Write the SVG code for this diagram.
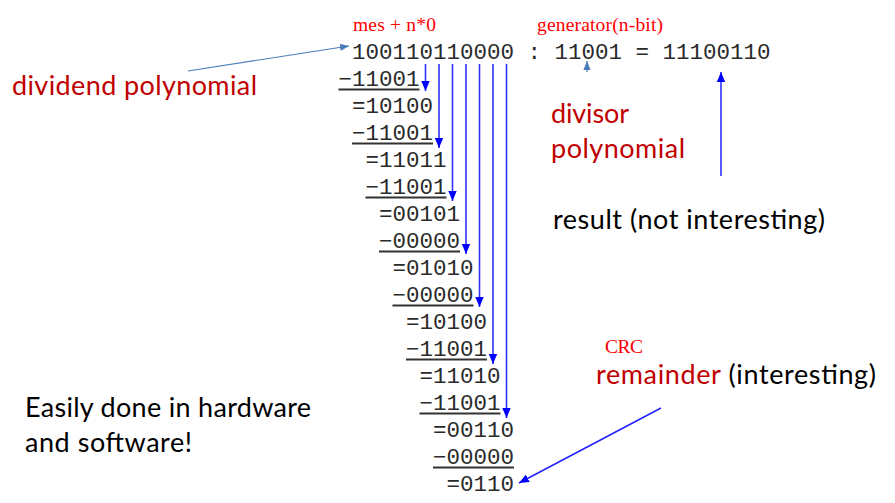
<svg xmlns="http://www.w3.org/2000/svg" width="895" height="503" viewBox="0 0 895 503">
<style>
.mono{font-family:"Liberation Mono","Courier New",monospace;font-size:22.5px;fill:#2a2a2a}
.ul{stroke:#333;stroke-width:2}
.sans{font-family:Lato,"Open Sans",sans-serif;font-size:27px}
.red{fill:#c00000}
.blk{fill:#000}
.ser{font-family:"Liberation Serif","Times New Roman",serif;font-size:19.5px;fill:#ff0000}
.vb{stroke:#3333ff;stroke-width:1.6;fill:none;marker-end:url(#ab)}
.sb{stroke:#4a7ebb;stroke-width:1.2;fill:none;marker-end:url(#as)}
.bb{stroke:#2222ff;stroke-width:1.5;fill:none;marker-end:url(#ab)}
</style>
<defs>
<marker id="ab" markerUnits="userSpaceOnUse" markerWidth="10" markerHeight="10" viewBox="0 0 10 10" refX="10" refY="5" orient="auto">
<path d="M0,0.8 L10,5 L0,9.2 Z" fill="#0000ff"/>
</marker>
<marker id="as" markerUnits="userSpaceOnUse" markerWidth="9" markerHeight="9" viewBox="0 0 10 10" refX="10" refY="5" orient="auto">
<path d="M0,1 L10,5 L0,9 Z" fill="#4a7ebb"/>
</marker>
</defs>

<g id="labels">
<text class="ser" x="353" y="31" textLength="83">mes + n*0</text>
<text class="ser" x="537" y="31" textLength="126">generator(n-bit)</text>
<text class="ser" x="605" y="353" textLength="38">CRC</text>
</g>

<g id="dividend-label"><text class="sans red" x="12" y="95" textLength="245">dividend polynomial</text></g>
<g id="divisor-label">
<text class="sans red" x="551" y="123" textLength="78">divisor</text>
<text class="sans red" x="551" y="158" textLength="134">polynomial</text>
</g>
<g id="result-label"><text class="sans blk" x="553" y="229" textLength="272">result (not interesting)</text></g>
<g id="remainder-label"><text class="sans blk" x="596" y="384" textLength="280"><tspan class="red">remainder</tspan> (interesting)</text></g>
<g id="note">
<text class="sans blk" x="25" y="417" textLength="286">Easily done in hardware</text>
<text class="sans blk" x="25" y="452" textLength="167">and software!</text>
</g>

<g id="division">
<text class="mono" x="352" y="59" xml:space="preserve">100110110000 : 11001 = 11100110</text>
<text class="mono" x="338.5" y="86">−11001</text>
<text class="mono" x="352" y="113">=10100</text>
<text class="mono" x="352" y="140">−11001</text>
<text class="mono" x="365.5" y="167">=11011</text>
<text class="mono" x="365.5" y="194">−11001</text>
<text class="mono" x="379" y="221">=00101</text>
<text class="mono" x="379" y="248">−00000</text>
<text class="mono" x="392.5" y="275">=01010</text>
<text class="mono" x="392.5" y="302">−00000</text>
<text class="mono" x="406" y="329">=10100</text>
<text class="mono" x="406" y="356">−11001</text>
<text class="mono" x="419.5" y="383">=11010</text>
<text class="mono" x="419.5" y="410">−11001</text>
<text class="mono" x="433" y="437">=00110</text>
<text class="mono" x="433" y="464">−00000</text>
<text class="mono" x="446.5" y="491">=0110</text>
<line class="ul" x1="338.5" y1="89.5" x2="419.5" y2="89.5"/>
<line class="ul" x1="352" y1="143.5" x2="433" y2="143.5"/>
<line class="ul" x1="365.5" y1="197.5" x2="446.5" y2="197.5"/>
<line class="ul" x1="379" y1="251.5" x2="460" y2="251.5"/>
<line class="ul" x1="392.5" y1="305.5" x2="473.5" y2="305.5"/>
<line class="ul" x1="406" y1="359.5" x2="487" y2="359.5"/>
<line class="ul" x1="419.5" y1="413.5" x2="500.5" y2="413.5"/>
<line class="ul" x1="433" y1="467.5" x2="514" y2="467.5"/>
</g>

<g id="connectors">
<line class="vb" x1="425.5" y1="64" x2="425.5" y2="91"/>
<line class="vb" x1="439" y1="64" x2="439" y2="148"/>
<line class="vb" x1="452.5" y1="64" x2="452.5" y2="201"/>
<line class="vb" x1="466" y1="64" x2="466" y2="254"/>
<line class="vb" x1="479.5" y1="64" x2="479.5" y2="307"/>
<line class="vb" x1="493" y1="64" x2="493" y2="364"/>
<line class="vb" x1="506.5" y1="64" x2="506.5" y2="418"/>
<line class="sb" x1="188" y1="71" x2="349" y2="46"/>
<line class="sb" x1="587" y1="72" x2="587" y2="61"/>
<line class="bb" x1="721" y1="176" x2="721" y2="72"/>
<line class="bb" x1="661" y1="408" x2="519" y2="483"/>
</g>
</svg>
